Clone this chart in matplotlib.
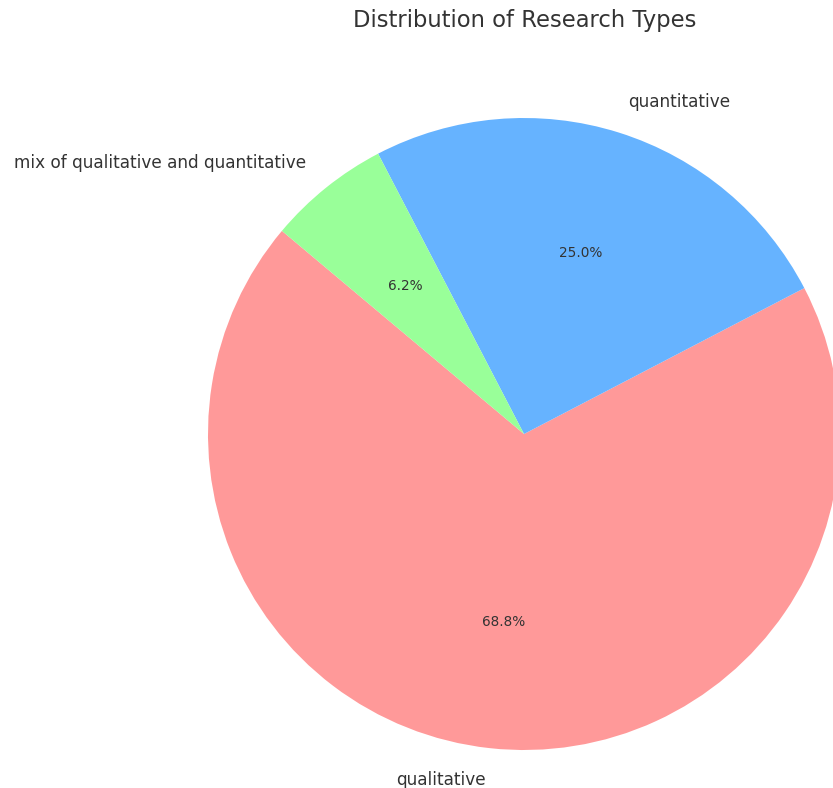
import matplotlib
matplotlib.use("Agg")
import matplotlib.pyplot as plt

# Research type counts
labels = ["qualitative", "quantitative", "mix of qualitative and quantitative"]
counts = [11, 4, 1]
colors = ["#ff9999", "#66b3ff", "#99ff99"]

W, H, DPI = 833, 788, 100
fig = plt.figure(figsize=(W / DPI, H / DPI), dpi=DPI)

# Pie centre and radius in pixels
cx, cy, r = 524, 434, 316
half = 1.25 * r
ax = fig.add_axes([(cx - half) / W, (H - cy - half) / H, 2 * half / W, 2 * half / H])

wedges, texts, autotexts = ax.pie(
    counts,
    labels=labels,
    colors=colors,
    autopct="%1.1f%%",
    startangle=140,
    textprops={"fontsize": 12.2, "color": "#333333"},
)
for t in autotexts:
    t.set_fontsize(9.8)
    t.set_color("#333333")

ax.set_xlim(-1.25, 1.25)
ax.set_ylim(-1.25, 1.25)
ax.set_aspect("equal")
ax.axis("off")

fig.text(525 / W, 1 - 20 / H, "Distribution of Research Types",
         ha="center", va="center", fontsize=16.3, color="#333333")

fig.savefig("out.png", dpi=DPI, facecolor="white")
